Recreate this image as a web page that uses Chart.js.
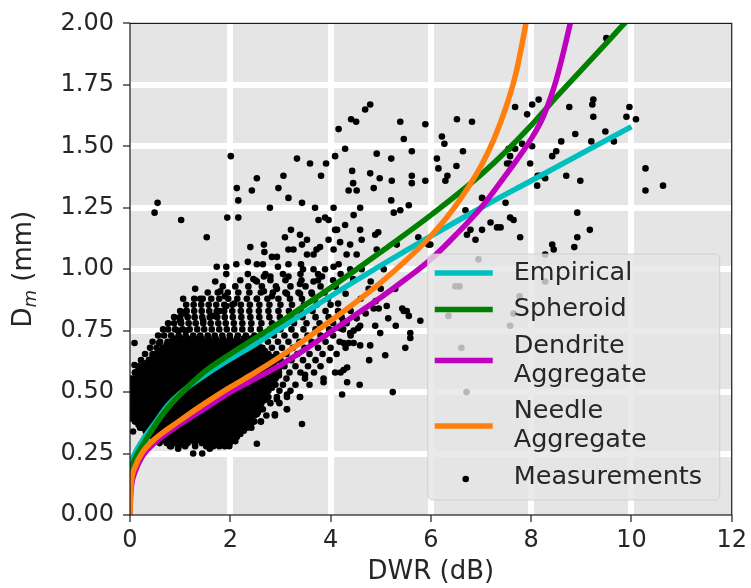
<!DOCTYPE html>
<html>
<head>
<meta charset="utf-8">
<title>Dm vs DWR</title>
<script src="https://cdn.jsdelivr.net/npm/chart.js@4.4.1/dist/chart.umd.min.js"></script>
<style>
  html, body { margin: 0; padding: 0; background: #fff; }
  #wrap { width: 751px; height: 588px; }
</style>
</head>
<body>
<div id="wrap"><canvas id="dmChart" width="751" height="588"></canvas></div>
<script>
// ---- axis limits / ticks ----
const xTickStep = 2;     // DWR (dB)
const xMax = 12;
const yTickStep = 0.25;  // Dm (mm)
const yMax = 2.0;

// ---- model curves (DWR in dB, Dm in mm) ----
const empiricalDWR = [0, 0.05, 0.15, 0.3, 0.5, 0.75, 1.0, 1.5, 2.0, 2.5, 3.0, 3.5, 4.0, 5.0, 6.0, 7.0, 8.0, 9.0, 10.0];
const empiricalDm  = [0.205, 0.232, 0.27, 0.32, 0.375, 0.445, 0.495, 0.57, 0.635, 0.695, 0.76, 0.825, 0.89, 1.015, 1.135, 1.25, 1.36, 1.47, 1.58];

const spheroidDWR = [0, 0.05, 0.15, 0.3, 0.5, 0.75, 1.0, 1.5, 2.0, 2.5, 3.0, 3.5, 4.0, 5.0, 6.0, 7.0, 7.5, 8.0, 8.5, 9.0, 9.5, 9.86, 10.0];
const spheroidDm  = [0.175, 0.205, 0.25, 0.30, 0.365, 0.435, 0.49, 0.585, 0.655, 0.72, 0.785, 0.855, 0.925, 1.07, 1.22, 1.385, 1.48, 1.585, 1.70, 1.81, 1.92, 2.0, 2.03];

const dendriteDWR = [0, 0.01, 0.03, 0.1, 0.25, 0.5, 1.0, 1.5, 2.0, 2.5, 3.0, 3.5, 4.0, 4.5, 5.0, 5.5, 6.0, 6.5, 7.0, 7.5, 8.0, 8.25, 8.5, 8.7, 8.8];
const dendriteDm  = [0, 0.07, 0.12, 0.175, 0.24, 0.295, 0.37, 0.435, 0.50, 0.555, 0.61, 0.675, 0.745, 0.815, 0.885, 0.96, 1.04, 1.14, 1.25, 1.385, 1.53, 1.625, 1.77, 1.93, 2.02];

const needleDWR = [0, 0.01, 0.03, 0.1, 0.25, 0.5, 1.0, 1.5, 2.0, 2.5, 3.0, 3.5, 4.0, 4.5, 5.0, 5.5, 6.0, 6.5, 7.0, 7.25, 7.5, 7.7, 7.85, 7.92];
const needleDm  = [0, 0.085, 0.14, 0.195, 0.255, 0.31, 0.385, 0.455, 0.52, 0.58, 0.645, 0.715, 0.79, 0.865, 0.945, 1.035, 1.135, 1.26, 1.42, 1.525, 1.66, 1.80, 1.95, 2.03];

// ---- measurements: scattered points as [DWR, Dm] ----
const measScattered = [
  [4.16,1.57],[2.01,1.46],[3.33,1.45],[3.59,1.43],[3.91,1.43],[4.09,1.46],[2.53,1.37],[3.06,1.38],[3.81,1.38],
  [2.13,1.33],[2.43,1.32],[2.96,1.33],[3.16,1.29],[2.16,1.28],[0.55,1.27],[0.49,1.23],[1.02,1.20],[1.94,1.21],
  [2.16,1.21],[2.79,1.25],[3.43,1.27],[3.69,1.25],[4.06,1.25],[3.89,1.21],[3.76,1.20],[3.96,1.20],[1.53,1.13],
  [2.40,1.09],[2.67,1.10],[3.21,1.16],[3.09,1.13],[3.39,1.14],[3.53,1.12],[4.09,1.16],[3.96,1.12],[3.79,1.09],
  [4.06,1.08],[2.68,1.07],[2.83,1.05],[2.93,1.05],[3.16,1.08],[3.26,1.08],[3.43,1.10],[3.53,1.06],[3.66,1.06],
  [3.72,1.08],[2.12,1.02],[2.35,1.03],[2.53,1.02],[2.65,1.02],[1.73,1.01],[1.92,1.01],[1.92,0.98],[2.95,1.01],
  [3.16,1.02],[3.41,1.02],[3.66,1.00],[3.45,1.00],[3.89,1.00],[4.06,1.01],[1.70,0.95],[1.30,0.92],[1.80,0.91],
  [1.06,0.88],[1.40,0.88],[2.46,0.96],[2.53,0.95],[2.67,0.97],[2.80,0.97],[2.93,0.92],[3.16,0.97],[3.39,0.94],
  [3.39,0.90],[3.66,0.95],[3.83,0.97],[3.63,0.90],[3.13,0.90],[2.83,0.89],[2.67,0.91],[2.53,0.88],
  [1.89,0.89],[1.92,0.85],[2.08,0.86],[1.79,0.83],[1.12,0.83],[1.09,0.82],[1.01,0.79],[1.46,0.79],[1.66,0.81],
  [0.96,0.75],[1.12,0.75],[0.09,0.70],[0.58,0.70],[0.09,0.61],[1.26,0.71],[1.39,0.71],[0.92,0.67],[1.00,0.79],
  [4.79,1.67],[4.69,1.65],[4.41,1.61],[4.51,1.60],[5.39,1.60],[5.89,1.59],[6.52,1.61],[6.82,1.60],[5.46,1.53],
  [6.22,1.54],[6.27,1.51],[4.29,1.49],[4.92,1.47],[5.62,1.48],[5.21,1.45],[6.64,1.48],[6.12,1.45],[6.51,1.42],
  [4.43,1.40],[4.79,1.39],[4.98,1.37],[5.22,1.36],[5.62,1.38],[5.62,1.35],[5.89,1.36],[6.15,1.41],[6.29,1.36],
  [6.33,1.38],[4.36,1.32],[4.52,1.32],[4.86,1.33],[4.45,1.35],[5.21,1.28],[5.39,1.24],[5.56,1.26],[5.26,1.23],
  [4.59,1.25],[4.46,1.22],[4.13,1.16],[4.29,1.18],[4.59,1.16],[4.89,1.14],[4.95,1.15],[4.62,1.12],[4.39,1.10],
  [4.19,1.11],[4.32,1.06],[4.52,1.06],[4.92,1.08],[5.32,1.10],[5.75,1.13],[5.99,1.10],[6.69,1.24],[6.79,1.16],
  [6.72,1.14],[6.89,1.12],[7.02,1.16],[7.19,1.19],[7.32,1.17],[7.58,1.21],[7.65,1.20],[7.78,1.13],[7.02,1.29],
  [7.12,1.28],[7.68,1.49],[7.58,1.46],[7.52,1.43],[7.98,1.43],[7.82,1.51],[7.92,1.63],[8.02,1.67],[8.15,1.69],
  [7.68,1.66],[8.12,1.34],[8.18,1.38],[5.52,0.83],[5.43,0.84],[5.79,0.79],[4.99,0.74],[5.59,0.74],[4.76,0.92],
  [5.29,0.92],[5.06,1.00],[4.62,1.00],[4.09,0.93],
  [9.50,1.94],[8.76,1.66],[9.24,1.69],[9.22,1.67],[9.24,1.62],[9.96,1.66],[9.90,1.62],[10.09,1.61],[9.48,1.56],
  [8.88,1.55],[8.60,1.52],[9.20,1.52],[9.65,1.52],[8.02,1.50],[7.55,1.49],[8.50,1.48],[8.42,1.46],[7.57,1.43],
  [8.13,1.38],[8.28,1.37],[8.70,1.38],[8.98,1.36],[10.28,1.41],[10.28,1.32],[10.63,1.34],[7.49,1.27],[7.39,1.17],
  [8.92,1.23],[9.17,1.16],[8.92,1.13],[8.42,1.10],[8.45,1.08],[8.86,1.09],
  [8.28,1.06],[6.95,1.04],[6.49,0.93],[6.57,0.93],[6.35,0.81],[6.61,0.68],[6.71,0.50],[8.28,0.95],[7.77,0.89],
  [7.65,0.82],[7.58,0.77],[5.95,1.10],
  [4.86,0.84],[4.96,0.84],[5.12,0.85],[5.46,0.83],[5.56,0.81],[4.52,0.80],[4.59,0.77],[4.46,0.75],[4.39,0.74],
  [4.89,0.77],[4.19,0.76],[4.26,0.70],[4.36,0.70],[4.46,0.70],[4.59,0.69],[4.79,0.69],[5.09,0.65],[5.59,0.72],
  [5.49,0.68],[4.77,0.63],[4.33,0.60],[4.26,0.59],[4.33,0.54],[4.58,0.53],[4.23,0.49],[5.24,0.50],
  [3.43,0.37],[2.53,0.29],[2.61,0.38],[2.36,0.41],[2.53,0.41],[2.89,0.41],[3.13,0.43],[2.93,0.47],[3.39,0.48],
  [3.13,0.49],[3.86,0.54],[4.09,0.58],[4.20,0.58],[3.49,0.57],[2.16,0.43],[2.10,0.30],
  [1.26,0.25],[1.44,0.25],[1.59,0.27],[1.89,0.28],[0.96,0.27],[0.80,0.28],[1.96,0.36],[0.06,0.34],[0.02,0.51],
  [4.16,1.02],[4.39,1.00],[4.20,0.98],[4.45,0.96],[4.30,0.90],[4.60,0.88],[4.15,0.86],[4.70,0.82],[4.40,0.83],
  [4.25,0.79],[4.55,0.76],[4.80,0.95],[5.00,0.92],[4.90,0.87],[5.15,0.80],[5.30,0.77]
];

// looser part of the measurement cloud: each row is [Dm, DWR, DWR, ...]
const measCoreRows = [
  [0.28, 0.82, 0.97, 1.10, 1.30, 1.52, 1.66, 1.78, 1.98],
  [0.305, 0.50, 0.63, 0.76, 0.90, 1.04, 1.18, 1.33, 1.47, 1.61, 1.75, 1.92, 2.06],
  [0.33, 0.33, 0.47, 0.60, 0.74, 0.88, 1.01, 1.16, 1.30, 1.44, 1.58, 1.72, 1.86, 2.00, 2.18],
  [0.355, 0.20, 0.34, 0.50, 0.64, 0.78, 0.92, 1.06, 1.20, 1.35, 1.49, 1.64, 1.79, 1.93, 2.08, 2.25, 2.42],
  [0.38, 0.12, 0.26, 0.41, 0.56, 0.70, 0.85, 0.99, 1.13, 1.28, 1.42, 1.56, 1.70, 1.85, 2.00, 2.14, 2.30, 2.61],
  [0.405, 0.06, 0.19, 0.33, 0.48, 0.62, 0.77, 0.91, 1.05, 1.20, 1.34, 1.49, 1.63, 1.78, 1.92, 2.07, 2.22, 2.40, 2.72, 2.89],
  [0.43, 0.03, 0.13, 0.27, 0.41, 0.55, 0.70, 0.84, 0.98, 1.13, 1.27, 1.41, 1.56, 1.70, 1.85, 1.99, 2.16, 2.31, 2.50, 2.65, 3.13],
  [0.455, 0.02, 0.18, 0.33, 0.47, 0.62, 0.76, 0.91, 1.05, 1.19, 1.34, 1.48, 1.63, 1.77, 1.92, 2.06, 2.22, 2.39, 2.58, 2.80, 2.98],
  [0.48, 0.05, 0.11, 0.26, 0.40, 0.55, 0.69, 0.83, 0.98, 1.12, 1.27, 1.41, 1.55, 1.70, 1.84, 1.99, 2.14, 2.30, 2.47, 2.66, 2.93, 3.13, 3.39],
  [0.505, 0.02, 0.18, 0.33, 0.47, 0.62, 0.76, 0.90, 1.05, 1.19, 1.33, 1.48, 1.62, 1.77, 1.91, 2.06, 2.21, 2.37, 2.55, 2.74, 2.98, 3.20],
  [0.53, 0.09, 0.25, 0.40, 0.54, 0.68, 0.83, 0.97, 1.12, 1.26, 1.41, 1.55, 1.69, 1.84, 1.98, 2.13, 2.29, 2.45, 2.62, 2.81, 3.05, 3.30, 3.58],
  [0.555, 0.03, 0.17, 0.32, 0.46, 0.61, 0.75, 0.90, 1.04, 1.19, 1.33, 1.47, 1.62, 1.76, 1.91, 2.05, 2.20, 2.36, 2.53, 2.70, 2.90, 3.12, 3.49, 3.86],
  [0.58, 0.10, 0.24, 0.39, 0.53, 0.68, 0.82, 0.97, 1.11, 1.25, 1.40, 1.54, 1.69, 1.83, 1.98, 2.12, 2.28, 2.44, 2.61, 2.78, 2.97, 3.18, 3.40, 3.67],
  [0.605, 0.17, 0.31, 0.46, 0.60, 0.75, 0.89, 1.04, 1.18, 1.33, 1.47, 1.61, 1.76, 1.90, 2.05, 2.20, 2.36, 2.52, 2.70, 2.88, 3.08, 3.30, 3.55, 3.80],
  [0.63, 0.22, 0.38, 0.53, 0.67, 0.82, 0.96, 1.11, 1.25, 1.40, 1.54, 1.68, 1.83, 1.97, 2.12, 2.28, 2.45, 2.62, 2.81, 3.00, 3.22, 3.45, 3.70, 3.98],
  [0.655, 0.30, 0.45, 0.60, 0.74, 0.89, 1.03, 1.18, 1.32, 1.47, 1.61, 1.76, 1.90, 2.05, 2.20, 2.37, 2.54, 2.73, 2.92, 3.12, 3.34, 3.58, 3.84, 4.12],
  [0.68, 0.40, 0.53, 0.67, 0.82, 0.96, 1.11, 1.25, 1.40, 1.54, 1.69, 1.83, 1.98, 2.13, 2.29, 2.46, 2.64, 2.83, 3.03, 3.25, 3.48, 3.75, 4.00, 4.30],
  [0.705, 0.45, 0.60, 0.75, 0.89, 1.04, 1.18, 1.33, 1.47, 1.62, 1.76, 1.91, 2.06, 2.22, 2.38, 2.56, 2.75, 2.95, 3.16, 3.38, 3.62, 3.90, 4.18],
  [0.73, 0.56, 0.68, 0.82, 0.97, 1.11, 1.26, 1.40, 1.55, 1.69, 1.84, 1.99, 2.15, 2.31, 2.48, 2.67, 2.87, 3.08, 3.30, 3.54, 3.80, 4.05, 4.40],
  [0.755, 0.66, 0.76, 0.90, 1.05, 1.19, 1.34, 1.48, 1.63, 1.78, 1.93, 2.08, 2.24, 2.41, 2.59, 2.79, 3.00, 3.22, 3.46, 3.70, 3.97, 4.25],
  [0.78, 0.76, 0.88, 1.02, 1.17, 1.31, 1.46, 1.61, 1.76, 1.91, 2.07, 2.24, 2.42, 2.62, 2.83, 3.04, 3.27, 3.52, 3.78, 4.05, 4.32],
  [0.805, 0.88, 1.00, 1.15, 1.29, 1.44, 1.59, 1.74, 1.89, 2.05, 2.22, 2.40, 2.58, 2.78, 2.99, 3.21, 3.44, 3.70, 3.96, 4.22],
  [0.83, 1.00, 1.13, 1.28, 1.43, 1.58, 1.73, 1.88, 2.04, 2.21, 2.38, 2.57, 2.76, 2.96, 3.17, 3.40, 3.64, 3.90, 4.15],
  [0.855, 1.12, 1.27, 1.42, 1.57, 1.72, 1.88, 2.04, 2.21, 2.39, 2.58, 2.78, 3.00, 3.23, 3.47, 3.72, 4.00],
  [0.88, 1.28, 1.45, 1.62, 1.78, 1.96, 2.14, 2.33, 2.53, 2.74, 2.96, 3.19, 3.43, 3.69, 3.95],
  [0.905, 1.55, 1.75, 1.95, 2.16, 2.38, 2.61, 2.85, 3.10, 3.36, 3.62, 3.88],
  [0.93, 1.85, 2.10, 2.36, 2.63, 2.91, 3.20, 3.50, 3.80, 4.10],
  [0.955, 2.20, 2.50, 2.80, 3.10, 3.42, 3.75, 4.05],
  [0.98, 2.35, 2.70, 3.05, 3.40, 3.75]
];

// packed centre of the cloud, where the dots merge: [Dm, DWR, DWR, ...]
const measSolidRows = [
  [0.2925, 0.59, 0.73, 0.87, 1.01, 1.15, 1.29, 1.43, 1.57, 1.71, 1.85, 1.99],
  [0.305, 0.52, 0.66, 0.80, 0.94, 1.08, 1.22, 1.36, 1.50, 1.64, 1.78, 1.92, 2.06],
  [0.3175, 0.45, 0.59, 0.73, 0.87, 1.01, 1.15, 1.29, 1.43, 1.57, 1.71, 1.85, 1.99, 2.13],
  [0.33, 0.38, 0.52, 0.66, 0.80, 0.94, 1.08, 1.22, 1.36, 1.50, 1.64, 1.78, 1.92, 2.06, 2.20],
  [0.3425, 0.31, 0.45, 0.59, 0.73, 0.87, 1.01, 1.15, 1.29, 1.43, 1.57, 1.71, 1.85, 1.99, 2.13, 2.27],
  [0.355, 0.24, 0.38, 0.52, 0.66, 0.80, 0.94, 1.08, 1.22, 1.36, 1.50, 1.64, 1.78, 1.92, 2.06, 2.20, 2.34],
  [0.3675, 0.17, 0.31, 0.45, 0.59, 0.73, 0.87, 1.01, 1.15, 1.29, 1.43, 1.57, 1.71, 1.85, 1.99, 2.13, 2.27, 2.41],
  [0.38, 0.10, 0.24, 0.38, 0.52, 0.66, 0.80, 0.94, 1.08, 1.22, 1.36, 1.50, 1.64, 1.78, 1.92, 2.06, 2.20, 2.34, 2.48],
  [0.3925, 0.03, 0.17, 0.31, 0.45, 0.59, 0.73, 0.87, 1.01, 1.15, 1.29, 1.43, 1.57, 1.71, 1.85, 1.99, 2.13, 2.27, 2.41],
  [0.405, 0.10, 0.24, 0.38, 0.52, 0.66, 0.80, 0.94, 1.08, 1.22, 1.36, 1.50, 1.64, 1.78, 1.92, 2.06, 2.20, 2.34, 2.48],
  [0.4175, 0.03, 0.17, 0.31, 0.45, 0.59, 0.73, 0.87, 1.01, 1.15, 1.29, 1.43, 1.57, 1.71, 1.85, 1.99, 2.13, 2.27, 2.41, 2.55],
  [0.43, 0.10, 0.24, 0.38, 0.52, 0.66, 0.80, 0.94, 1.08, 1.22, 1.36, 1.50, 1.64, 1.78, 1.92, 2.06, 2.20, 2.34, 2.48, 2.62],
  [0.4425, 0.03, 0.17, 0.31, 0.45, 0.59, 0.73, 0.87, 1.01, 1.15, 1.29, 1.43, 1.57, 1.71, 1.85, 1.99, 2.13, 2.27, 2.41, 2.55],
  [0.455, 0.10, 0.24, 0.38, 0.52, 0.66, 0.80, 0.94, 1.08, 1.22, 1.36, 1.50, 1.64, 1.78, 1.92, 2.06, 2.20, 2.34, 2.48, 2.62],
  [0.4675, 0.03, 0.17, 0.31, 0.45, 0.59, 0.73, 0.87, 1.01, 1.15, 1.29, 1.43, 1.57, 1.71, 1.85, 1.99, 2.13, 2.27, 2.41, 2.55, 2.69],
  [0.48, 0.10, 0.24, 0.38, 0.52, 0.66, 0.80, 0.94, 1.08, 1.22, 1.36, 1.50, 1.64, 1.78, 1.92, 2.06, 2.20, 2.34, 2.48, 2.62, 2.76],
  [0.4925, 0.03, 0.17, 0.31, 0.45, 0.59, 0.73, 0.87, 1.01, 1.15, 1.29, 1.43, 1.57, 1.71, 1.85, 1.99, 2.13, 2.27, 2.41, 2.55, 2.69],
  [0.505, 0.10, 0.24, 0.38, 0.52, 0.66, 0.80, 0.94, 1.08, 1.22, 1.36, 1.50, 1.64, 1.78, 1.92, 2.06, 2.20, 2.34, 2.48, 2.62, 2.76],
  [0.5175, 0.03, 0.17, 0.31, 0.45, 0.59, 0.73, 0.87, 1.01, 1.15, 1.29, 1.43, 1.57, 1.71, 1.85, 1.99, 2.13, 2.27, 2.41, 2.55, 2.69, 2.83],
  [0.53, 0.10, 0.24, 0.38, 0.52, 0.66, 0.80, 0.94, 1.08, 1.22, 1.36, 1.50, 1.64, 1.78, 1.92, 2.06, 2.20, 2.34, 2.48, 2.62, 2.76, 2.90],
  [0.5425, 0.03, 0.17, 0.31, 0.45, 0.59, 0.73, 0.87, 1.01, 1.15, 1.29, 1.43, 1.57, 1.71, 1.85, 1.99, 2.13, 2.27, 2.41, 2.55, 2.69, 2.83],
  [0.555, 0.10, 0.24, 0.38, 0.52, 0.66, 0.80, 0.94, 1.08, 1.22, 1.36, 1.50, 1.64, 1.78, 1.92, 2.06, 2.20, 2.34, 2.48, 2.62, 2.76, 2.90],
  [0.5675, 0.17, 0.31, 0.45, 0.59, 0.73, 0.87, 1.01, 1.15, 1.29, 1.43, 1.57, 1.71, 1.85, 1.99, 2.13, 2.27, 2.41, 2.55, 2.69, 2.83, 2.97],
  [0.58, 0.10, 0.24, 0.38, 0.52, 0.66, 0.80, 0.94, 1.08, 1.22, 1.36, 1.50, 1.64, 1.78, 1.92, 2.06, 2.20, 2.34, 2.48, 2.62, 2.76, 2.90],
  [0.5925, 0.17, 0.31, 0.45, 0.59, 0.73, 0.87, 1.01, 1.15, 1.29, 1.43, 1.57, 1.71, 1.85, 1.99, 2.13, 2.27, 2.41, 2.55, 2.69, 2.83, 2.97],
  [0.605, 0.24, 0.38, 0.52, 0.66, 0.80, 0.94, 1.08, 1.22, 1.36, 1.50, 1.64, 1.78, 1.92, 2.06, 2.20, 2.34, 2.48, 2.62, 2.76, 2.90],
  [0.6175, 0.31, 0.45, 0.59, 0.73, 0.87, 1.01, 1.15, 1.29, 1.43, 1.57, 1.71, 1.85, 1.99, 2.13, 2.27, 2.41, 2.55, 2.69, 2.83],
  [0.63, 0.38, 0.52, 0.66, 0.80, 0.94, 1.08, 1.22, 1.36, 1.50, 1.64, 1.78, 1.92, 2.06, 2.20, 2.34, 2.48, 2.62, 2.76, 2.90],
  [0.6425, 0.45, 0.59, 0.73, 0.87, 1.01, 1.15, 1.29, 1.43, 1.57, 1.71, 1.85, 1.99, 2.13, 2.27, 2.41, 2.55, 2.69, 2.83],
  [0.655, 0.52, 0.66, 0.80, 0.94, 1.08, 1.22, 1.36, 1.50, 1.64, 1.78, 1.92, 2.06, 2.20, 2.34, 2.48, 2.62, 2.76],
  [0.6675, 0.59, 0.73, 0.87, 1.01, 1.15, 1.29, 1.43, 1.57, 1.71, 1.85, 1.99, 2.13, 2.27, 2.41, 2.55, 2.69],
  [0.68, 0.66, 0.80, 0.94, 1.08, 1.22, 1.36, 1.50, 1.64, 1.78, 1.92, 2.06, 2.20, 2.34, 2.48, 2.62],
  [0.6925, 0.73, 0.87, 1.01, 1.15, 1.29, 1.43, 1.57, 1.71, 1.85, 1.99, 2.13, 2.27, 2.41, 2.55],
  [0.705, 0.80, 0.94, 1.08, 1.22, 1.36, 1.50, 1.64, 1.78, 1.92, 2.06, 2.20, 2.34, 2.48],
  [0.7175, 0.87, 1.01, 1.15, 1.29, 1.43, 1.57, 1.71, 1.85, 1.99, 2.13, 2.27, 2.41]
];

const textColor = '#262626';
const fontFamily = '"DejaVu Sans", "Liberation Sans", sans-serif';
const panelColor = '#e5e5e5';

const toPoints = (xs, ys) => xs.map((x, i) => ({ x: x, y: ys[i] }));

const measPoints = measScattered.map(p => ({ x: p[0], y: p[1] }));
measCoreRows.concat(measSolidRows).forEach(row => {
  for (let i = 1; i < row.length; i++) measPoints.push({ x: row[i], y: row[0] });
});

function curve(label, xs, ys, color, order) {
  return {
    label: label,
    data: toPoints(xs, ys),
    showLine: true,
    borderColor: color,
    backgroundColor: color,
    borderWidth: 5.5,
    pointRadius: 0,
    cubicInterpolationMode: 'monotone',
    clip: 0,
    order: order
  };
}

// gray panel behind the grid
const panelPlugin = {
  id: 'panel',
  beforeDraw(chart) {
    const { ctx, chartArea } = chart;
    ctx.save();
    ctx.fillStyle = panelColor;
    ctx.fillRect(chartArea.left, chartArea.top, chartArea.right - chartArea.left, chartArea.bottom - chartArea.top);
    ctx.restore();
  }
};

// y axis title with a subscript, drawn rotated
const yTitlePlugin = {
  id: 'yTitle',
  afterDraw(chart) {
    const { ctx, chartArea } = chart;
    const cy = (chartArea.top + chartArea.bottom) / 2;
    const big = '26px ' + fontFamily;
    const small = 'italic 18px ' + fontFamily;
    ctx.save();
    ctx.translate(22, cy);
    ctx.rotate(-Math.PI / 2);
    ctx.fillStyle = textColor;
    ctx.textBaseline = 'alphabetic';
    ctx.textAlign = 'left';
    ctx.font = big;
    const wD = ctx.measureText('D').width;
    const wRest = ctx.measureText(' (mm)').width;
    ctx.font = small;
    const wm = ctx.measureText('m').width;
    let x = -(wD + wm + wRest) / 2;
    const base = 9;
    ctx.font = big;
    ctx.fillText('D', x, base);
    x += wD;
    ctx.font = small;
    ctx.fillText('m', x, base + 5);
    x += wm;
    ctx.font = big;
    ctx.fillText(' (mm)', x, base);
    ctx.restore();
  }
};

// dark frame round the plotting area
const framePlugin = {
  id: 'frame',
  afterDatasetsDraw(chart) {
    const { ctx, chartArea } = chart;
    ctx.save();
    ctx.strokeStyle = '#1a1a1a';
    ctx.lineWidth = 1.2;
    ctx.strokeRect(chartArea.left, chartArea.top, chartArea.right - chartArea.left, chartArea.bottom - chartArea.top);
    ctx.restore();
  }
};

// legend box inside the lower right corner, semi-transparent
const legendPlugin = {
  id: 'innerLegend',
  afterDatasetsDraw(chart) {
    const { ctx, chartArea } = chart;
    const w = 292, h = 246;
    const left = chartArea.right - 12 - w;
    const top = chartArea.bottom - 15 - h;
    ctx.save();
    ctx.beginPath();
    ctx.roundRect(left, top, w, h, 5);
    ctx.fillStyle = 'rgba(229,229,229,0.8)';
    ctx.fill();
    ctx.strokeStyle = 'rgba(204,204,204,0.8)';
    ctx.lineWidth = 1;
    ctx.stroke();

    ctx.font = '25.5px ' + fontFamily;
    ctx.textBaseline = 'middle';
    ctx.textAlign = 'left';

    const lineH = 29, gap = 36.5;
    let y = top + 19;
    const sets = chart.data.datasets.slice().sort((a, b) => a.legendIndex - b.legendIndex);
    sets.forEach(ds => {
      const lines = ds.label.split('\n');
      const mid = y + (lines.length - 1) * lineH / 2;
      if (ds.showLine) {
        ctx.strokeStyle = ds.borderColor;
        ctx.lineWidth = 5.5;
        ctx.beginPath();
        ctx.moveTo(left + 7, mid);
        ctx.lineTo(left + 65, mid);
        ctx.stroke();
      } else {
        ctx.fillStyle = ds.backgroundColor;
        ctx.beginPath();
        ctx.arc(left + 38, mid + 2, 3.3, 0, Math.PI * 2);
        ctx.fill();
      }
      ctx.fillStyle = textColor;
      lines.forEach((t, i) => ctx.fillText(t, left + 86, y + i * lineH));
      y += (lines.length - 1) * lineH + gap;
    });
    ctx.restore();
  }
};

const datasets = [
  curve('Empirical', empiricalDWR, empiricalDm, '#00bfbf', 4),
  curve('Spheroid', spheroidDWR, spheroidDm, '#008000', 3),
  curve('Dendrite\nAggregate', dendriteDWR, dendriteDm, '#bf00bf', 2),
  curve('Needle\nAggregate', needleDWR, needleDm, '#ff7f0e', 1),
  {
    label: 'Measurements',
    data: measPoints,
    showLine: false,
    backgroundColor: '#000',
    borderWidth: 0,
    pointRadius: 3.3,
    clip: 0,
    order: 5
  }
];
datasets.forEach((ds, i) => { ds.legendIndex = i; });

const edgeHidden = (limit) => (ctx) =>
  (ctx.tick && (ctx.tick.value === 0 || Math.abs(ctx.tick.value - limit) < 1e-9)) ? 'rgba(0,0,0,0)' : '#ffffff';

new Chart(document.getElementById('dmChart'), {
  type: 'scatter',
  data: { datasets: datasets },
  options: {
    responsive: false,
    animation: false,
    events: [],
    layout: { padding: { top: 18, right: 19, left: 0, bottom: 0 } },
    plugins: { legend: { display: false }, tooltip: { enabled: false } },
    scales: {
      x: {
        type: 'linear',
        min: 0,
        max: xMax,
        afterFit(scale) { scale.height = 73; },
        border: { display: false },
        grid: {
          color: edgeHidden(xMax),
          lineWidth: 6,
          tickColor: '#1a1a1a',
          tickWidth: 1.2,
          tickLength: 7
        },
        ticks: {
          stepSize: xTickStep,
          maxRotation: 0,
          padding: 4,
          color: textColor,
          font: { family: fontFamily, size: 24 }
        },
        title: {
          display: true,
          text: 'DWR (dB)',
          color: textColor,
          padding: { top: 0, bottom: 0 },
          font: { family: fontFamily, size: 26 }
        }
      },
      y: {
        type: 'linear',
        min: 0,
        max: yMax,
        afterFit(scale) { scale.width = 130; },
        border: { display: false },
        grid: {
          color: edgeHidden(yMax),
          lineWidth: 6,
          tickColor: '#1a1a1a',
          tickWidth: 1.2,
          tickLength: 7
        },
        ticks: {
          stepSize: yTickStep,
          autoSkip: false,
          padding: 9,
          color: textColor,
          font: { family: fontFamily, size: 24 },
          callback: v => v.toFixed(2)
        }
      }
    }
  },
  plugins: [panelPlugin, framePlugin, legendPlugin, yTitlePlugin]
});
</script>
</body>
</html>
